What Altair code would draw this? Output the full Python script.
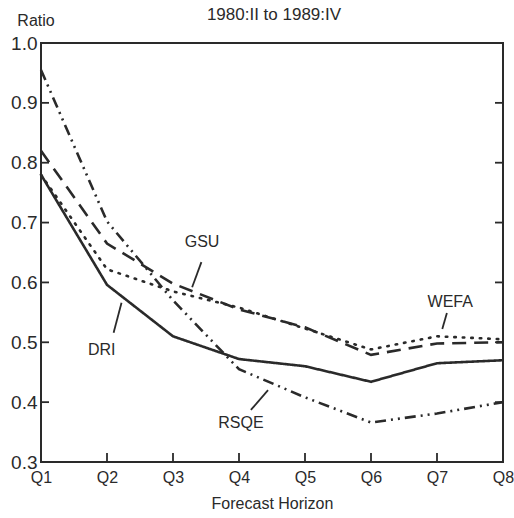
import altair as alt
import pandas as pd

horizons = [1, 2, 3, 4, 5, 6, 7, 8]
dri = [0.78, 0.596, 0.51, 0.472, 0.46, 0.434, 0.465, 0.47]
gsu = [0.82, 0.665, 0.598, 0.555, 0.525, 0.479, 0.498, 0.50]
wefa = [0.78, 0.622, 0.585, 0.558, 0.523, 0.488, 0.51, 0.505]
rsqe = [0.955, 0.702, 0.57, 0.455, 0.408, 0.366, 0.381, 0.40]

series_names = ["DRI", "GSU", "WEFA", "RSQE"]
series_vals = [dri, gsu, wefa, rsqe]
dashes = {"DRI": [1, 0], "GSU": [14, 8], "WEFA": [1.5, 7], "RSQE": [11, 5, 2, 5, 2, 5]}

label_names = ["DRI", "GSU", "RSQE", "WEFA"]
label_x = [1.92, 3.44, 4.03, 7.2]
label_y = [0.487, 0.667, 0.365, 0.567]
leader_x1 = [2.22, 3.43, 4.18, 7.15]
leader_y1 = [0.566, 0.634, 0.387, 0.549]
leader_x2 = [2.10, 3.29, 4.44, 7.08]
leader_y2 = [0.516, 0.592, 0.420, 0.522]

y_ticks = [0.4, 0.5, 0.6, 0.7, 0.8, 0.9]
x_ticks = [2, 3, 4, 5, 6, 7]

W, H = 462, 419
INK = "#2a2a2a"
FONT = "Liberation Sans"

rows = []
for name, vals in zip(series_names, series_vals):
    for h, v in zip(horizons, vals):
        rows.append({"h": h, "v": v, "s": name})
df = pd.DataFrame(rows)

xs = alt.Scale(domain=[1, 8], nice=False)
ys = alt.Scale(domain=[0.3, 1.0], nice=False, zero=False)

xaxis = alt.Axis(values=horizons, labelExpr="'Q' + datum.value", domain=False, ticks=False,
                 grid=False, labelFontSize=16, labelFont=FONT, labelColor=INK, labelPadding=7,
                 title="Forecast Horizon", titleFontSize=16, titleFont=FONT, titleFontWeight="normal",
                 titleColor=INK, titlePadding=10, labelFlush=False)
yaxis = alt.Axis(values=[0.3, 0.4, 0.5, 0.6, 0.7, 0.8, 0.9, 1.0], format=".1f", domain=False,
                 ticks=False, grid=False, labelFontSize=19, labelFont=FONT, labelColor=INK,
                 labelPadding=4, title=None)

lines = []
for name in series_names:
    lines.append(
        alt.Chart(df[df.s == name]).mark_line(
            color=INK, strokeWidth=2.6, strokeDash=dashes[name],
            strokeCap="round" if name == "WEFA" else "butt"
        ).encode(
            x=alt.X("h:Q", scale=xs, axis=xaxis),
            y=alt.Y("v:Q", scale=ys, axis=yaxis),
        )
    )

lab_df = pd.DataFrame({"name": label_names, "x": label_x, "y": label_y,
                       "x1": leader_x1, "y1": leader_y1, "x2": leader_x2, "y2": leader_y2})
labels = alt.Chart(lab_df).mark_text(font=FONT, fontSize=16, color=INK).encode(
    x=alt.X("x:Q", scale=xs), y=alt.Y("y:Q", scale=ys), text="name:N")
leaders = alt.Chart(lab_df).mark_rule(color=INK, strokeWidth=1.8).encode(
    x=alt.X("x1:Q", scale=xs), y=alt.Y("y1:Q", scale=ys),
    x2="x2:Q", y2="y2:Q")

yt = pd.DataFrame({"v": y_ticks})
ytick_l = alt.Chart(yt).mark_rule(color=INK, strokeWidth=1.8).encode(
    y=alt.Y("v:Q", scale=ys), x=alt.value(0), x2=alt.value(8))
ytick_r = alt.Chart(yt).mark_rule(color=INK, strokeWidth=1.8).encode(
    y=alt.Y("v:Q", scale=ys), x=alt.value(W - 8), x2=alt.value(W))
xt = pd.DataFrame({"h": x_ticks})
xtick = alt.Chart(xt).mark_rule(color=INK, strokeWidth=1.8).encode(
    x=alt.X("h:Q", scale=xs), y=alt.value(H - 9), y2=alt.value(H))

title = alt.Chart(pd.DataFrame({"t": ["1980:II to 1989:IV"]})).mark_text(
    font=FONT, fontSize=17, color=INK).encode(
    text="t:N", x=alt.value(233), y=alt.value(-28))
ratio = alt.Chart(pd.DataFrame({"t": ["Ratio"]})).mark_text(
    font=FONT, fontSize=16, color=INK).encode(
    text="t:N", x=alt.value(-5), y=alt.value(-22))

chart = alt.layer(*lines, leaders, labels, ytick_l, ytick_r, xtick, title, ratio).properties(
    width=W, height=H,
    autosize=alt.AutoSizeParams(type="none"),
    padding={"left": 41, "top": 43, "right": 11, "bottom": 56},
    background="white",
).configure_view(stroke=INK, strokeWidth=2)

chart.save("out.html", embed_options={"renderer": "svg", "actions": False})
